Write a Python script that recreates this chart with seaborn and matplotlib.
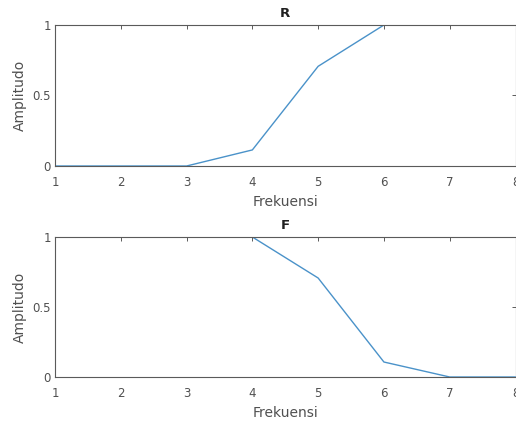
import numpy as np
import pandas as pd
import matplotlib
matplotlib.use("Agg")
import matplotlib.pyplot as plt
import seaborn as sns

sns.set_style("white")
plt.rcParams['font.family'] = ['DejaVu Sans']

frekuensi = [1, 2, 3, 4, 5, 6, 7, 8]
amp_r = [0, 0, 0, 0.114, 0.707, 1, 1, 1]
amp_f = [1, 1, 1, 1, 0.707, 0.107, 0, 0]
titles = ["R", "F"]
xlabel = "Frekuensi"
ylabel = "Amplitudo"
xticks = [1, 2, 3, 4, 5, 6, 7, 8]
yticks = [0, 0.5, 1]
yticklabels = ["0", "0.5", "1"]

W, H = 516, 423
fig = plt.figure(figsize=(W / 100, H / 100), dpi=100)

line_color = "#4a92c9"
txt = "#505050"
spine = "#5a5a5a"

positions = [(25, 166), (237, 377)]
for (top, bot), title, vals in zip(positions, titles, [amp_r, amp_f]):
    ax = fig.add_axes([55 / W, 1 - bot / H, (515.5 - 55) / W, (bot - top) / H])
    df = pd.DataFrame({"x": frekuensi, "y": vals})
    sns.lineplot(data=df, x="x", y="y", ax=ax, color=line_color, linewidth=1.0)
    ax.set_xlim(1, 8)
    ax.set_ylim(0, 1)
    ax.set_xticks(xticks)
    ax.set_xticklabels([str(t) for t in xticks])
    ax.set_yticks(yticks)
    ax.set_yticklabels(yticklabels)
    ax.tick_params(direction="in", length=3, width=0.7, colors=spine,
                   labelcolor=txt, labelsize=8.5, top=True, right=True)
    ax.tick_params(axis="x", pad=7.5)
    ax.tick_params(axis="y", pad=3)
    for s in ax.spines.values():
        s.set_color(spine)
        s.set_linewidth(0.8)
        s.set_visible(True)
    ax.set_xlabel(xlabel, fontsize=10, color=txt, labelpad=4)
    ax.set_ylabel(ylabel, fontsize=10, color=txt, labelpad=4)
    ax.set_title(title, fontsize=9.5, fontweight="bold", color="#202020", pad=6)

fig.savefig("out.png", dpi=100)
